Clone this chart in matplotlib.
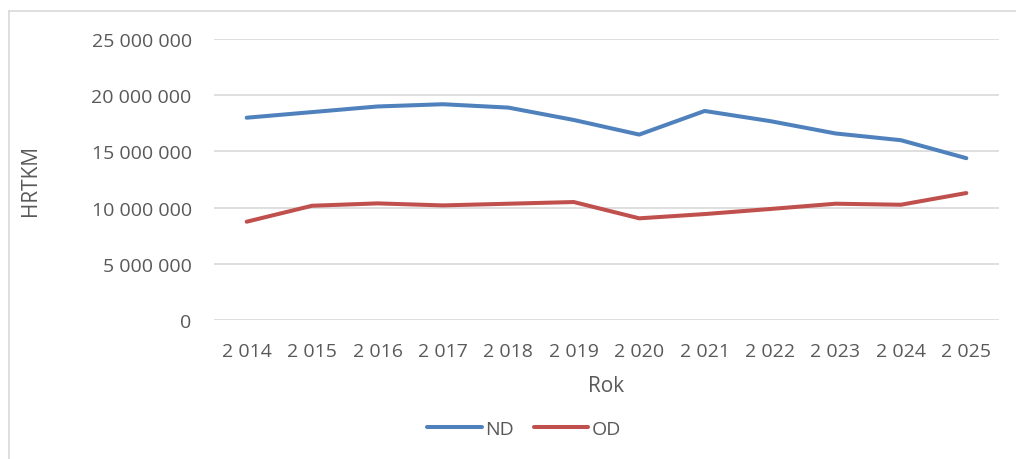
import matplotlib.pyplot as plt
from matplotlib.ticker import FuncFormatter
from matplotlib.lines import Line2D

years = ['2 014', '2 015', '2 016', '2 017', '2 018', '2 019',
         '2 020', '2 021', '2 022', '2 023', '2 024', '2 025']
nd = [18.0e6, 18.5e6, 19.0e6, 19.2e6, 18.9e6, 17.8e6,
      16.5e6, 18.6e6, 17.7e6, 16.6e6, 16.0e6, 14.4e6]
od = [8.75e6, 10.17e6, 10.38e6, 10.2e6, 10.35e6, 10.5e6,
      9.05e6, 9.43e6, 9.88e6, 10.35e6, 10.26e6, 11.3e6]

plt.rcParams['font.family'] = ['Open Sans', 'DejaVu Sans']
txt = '#595959'

fig = plt.figure(figsize=(10.16, 4.6), dpi=100)
ax = fig.add_axes([0.2106, 0.302, 0.7727, 0.611])

x = range(len(years))
ax.plot(x, nd, color='#4F81BD', lw=2.9, label='ND', solid_capstyle='round')
ax.plot(x, od, color='#C0504D', lw=2.9, label='OD', solid_capstyle='round')

ax.set_xlim(-0.5, len(years) - 0.5)
ax.set_ylim(0, 25e6)
ax.set_yticks(range(0, 25000001, 5000000))
ax.yaxis.set_major_formatter(FuncFormatter(lambda v, p: f'{int(v):,}'.replace(',', ' ')))
ax.set_xticks(list(x))
ax.set_xticklabels(years)

ax.grid(axis='y', color='#d9d9d9', lw=1.2)
ax.set_axisbelow(True)
for s in ax.spines.values():
    s.set_visible(False)
ax.tick_params(length=0, labelsize=14, colors=txt)
ax.tick_params(axis='x', pad=16)
ax.tick_params(axis='y', pad=16)

ax.set_xlabel('Rok', fontsize=15, color=txt, va='center')
ax.xaxis.set_label_coords(0.5, -0.232)
ax.set_ylabel('HRTKM', fontsize=15, color=txt, va='center')
ax.yaxis.set_label_coords(-0.234, 0.5)

fig.legend(loc='center', bbox_to_anchor=(0.516, 0.065), ncol=2, frameon=False,
           fontsize=14, labelcolor=txt, handlelength=2.8, columnspacing=1.0, handletextpad=0.2)

# chart border (left and top edges visible)
fig.lines.append(Line2D([9 / 1016, 9 / 1016], [0, 1 - 12 / 460], transform=fig.transFigure,
                        color='#d9d9d9', lw=1.2))
fig.lines.append(Line2D([9 / 1016, 1], [1 - 12 / 460, 1 - 12 / 460], transform=fig.transFigure,
                        color='#d9d9d9', lw=1.2))

fig.savefig('out.png', dpi=100)
